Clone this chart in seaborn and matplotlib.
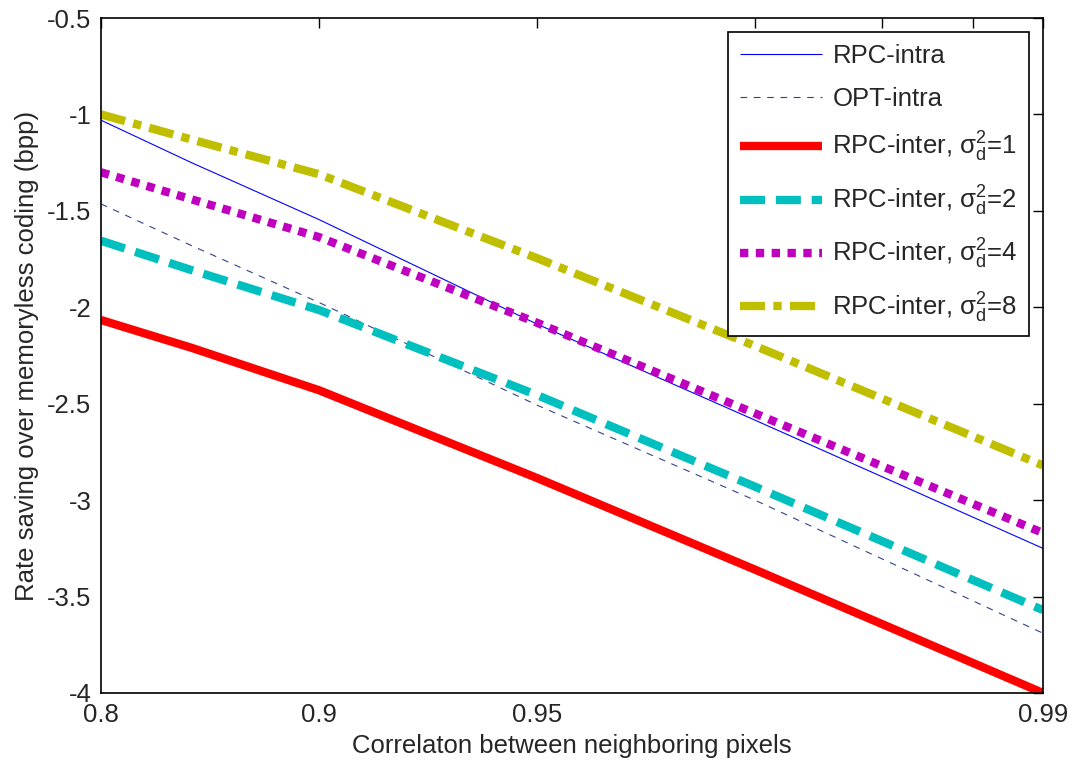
import numpy as np
import pandas as pd
import matplotlib
matplotlib.use("Agg")
import matplotlib.pyplot as plt
import seaborn as sns

# ---- data ----
rho = [0.80, 0.85, 0.90, 0.95, 0.975, 0.99]
rpc_intra = [-1.03, -1.25, -1.545, -2.087, -2.585, -3.25]
opt_intra = [-1.464, -1.68, -1.975, -2.507, -3.00, -3.69]
rpc_inter_1 = [-2.066, -2.21, -2.43, -2.885, -3.36, -4.00]
rpc_inter_2 = [-1.655, -1.807, -2.014, -2.455, -2.93, -3.57]
rpc_inter_4 = [-1.30, -1.44, -1.636, -2.08, -2.55, -3.17]
rpc_inter_8 = [-1.00, -1.13, -1.31, -1.745, -2.20, -2.82]

labels = ["RPC-intra", "OPT-intra",
          r"RPC-inter, $\mathregular{\sigma_d^2}$=1",
          r"RPC-inter, $\mathregular{\sigma_d^2}$=2",
          r"RPC-inter, $\mathregular{\sigma_d^2}$=4",
          r"RPC-inter, $\mathregular{\sigma_d^2}$=8"]
series = [rpc_intra, opt_intra, rpc_inter_1, rpc_inter_2, rpc_inter_4, rpc_inter_8]

x_ticks = [0.8, 0.9, 0.95, 0.975, 1 - 1 / 60, 0.9875, 0.99]
x_ticklabels = ["0.8", "0.9", "0.95", "", "", "", "0.99"]
y_ticks = [-4, -3.5, -3, -2.5, -2, -1.5, -1, -0.5]
y_ticklabels = ["-4", "-3.5", "-3", "-2.5", "-2", "-1.5", "-1", "-0.5"]

# ---- styles ----
colors = ["#0000FF", "#33428C", "#FF0000", "#00BFBF", "#BF00BF", "#BFBF00"]
widths = [0.8, 0.8, 6.0, 6.0, 6.0, 6.0]
dash_patterns = [None, (6, 6), None, (3.0, 1.3), (1.0, 0.9), (3.0, 1.0, 1.0, 1.0)]

sns.set_style("white")
plt.rcParams["font.family"] = ["Liberation Sans", "DejaVu Sans"]
plt.rcParams["mathtext.fontset"] = "custom"
plt.rcParams["mathtext.rm"] = "Liberation Sans"
plt.rcParams["mathtext.it"] = "Liberation Sans:italic"
plt.rcParams["lines.solid_capstyle"] = "butt"
plt.rcParams["lines.dash_capstyle"] = "butt"

FS = 18.5

fig = plt.figure(figsize=(10.75, 7.67), dpi=100)
ax = fig.add_axes([101 / 1075, 1 - 693 / 767, (1043 - 101) / 1075, (693 - 18) / 767])

fwd = lambda x: -np.log10(np.clip(1 - np.asarray(x, dtype=float), 1e-12, None))
inv = lambda y: 1 - 10 ** (-np.asarray(y, dtype=float))
ax.set_xscale("function", functions=(fwd, inv))

handles = []
for vals, lab, c, lw, d in zip(series, labels, colors, widths, dash_patterns):
    df = pd.DataFrame({"rho": rho, "val": vals})
    sns.lineplot(data=df, x="rho", y="val", ax=ax, color=c, linewidth=lw,
                 sort=False, estimator=None, label=lab, legend=False)
    ln = ax.lines[-1]
    if d is not None:
        ln.set_dashes(d)
    ln.set_solid_capstyle("butt")
    ln.set_dash_capstyle("butt")
    handles.append(ln)

ax.set_xlim(0.8, 0.99)
ax.set_ylim(-4, -0.5)
ax.set_xticks(x_ticks)
ax.set_xticklabels(x_ticklabels)
ax.xaxis.set_minor_locator(matplotlib.ticker.NullLocator())
ax.set_yticks(y_ticks)
ax.set_yticklabels(y_ticklabels)

ax.tick_params(axis="both", which="major", direction="in", length=7, width=1,
               top=True, right=True, labelsize=FS, color="black", pad=7)
for s in ax.spines.values():
    s.set_visible(True)
    s.set_color("black")
    s.set_linewidth(1.2)

ax.set_xlabel("Correlaton between neighboring pixels", fontsize=FS, labelpad=5)
ax.set_ylabel("Rate saving over memoryless coding (bpp)", fontsize=FS, labelpad=6)

leg = ax.legend(handles=handles, labels=labels, loc="upper right", fontsize=FS,
                frameon=True, fancybox=False, edgecolor="black", framealpha=1,
                handlelength=3.2, handletextpad=0.4, labelspacing=0.75,
                borderaxespad=0.55, borderpad=0.45)
leg.get_frame().set_linewidth(1.2)

fig.savefig("out.png", dpi=100)
